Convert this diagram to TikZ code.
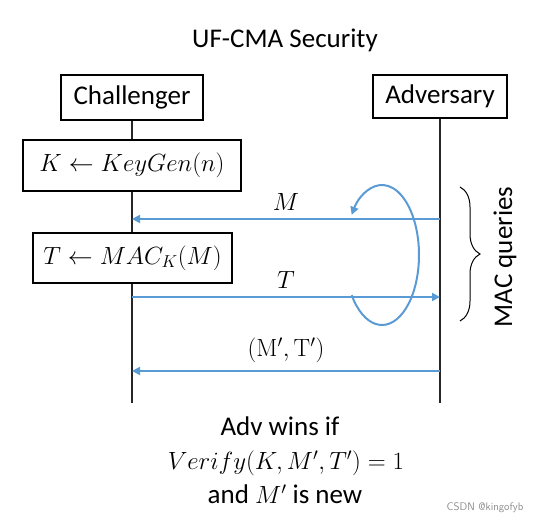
\documentclass[tikz,border=0pt]{standalone}
\usepackage[no-math]{fontspec}
\setmainfont{Carlito}
\usetikzlibrary{arrows.meta,decorations.pathreplacing}
\definecolor{msgblue}{RGB}{91,155,213}

\begin{document}
\begin{tikzpicture}[x=1pt, y=-1pt,
  party/.style={draw, line width=1.3pt, fill=white, inner sep=0pt, font=\fontsize{27}{30}\selectfont},
  step box/.style={draw, line width=1.3pt, fill=white, inner sep=0pt, font=\fontsize{24}{30}\selectfont},
  lifeline/.style={line width=1.2pt, black!85},
  msg/.style={-{Triangle[length=8pt, width=8pt]}, line width=2.4pt, msgblue},
  msglabel/.style={font=\fontsize{25}{30}\selectfont, text=black, inner sep=0pt},
  txt/.style={font=\fontsize{27}{30}\selectfont, inner sep=0pt},
]
\useasboundingbox (0,0) rectangle (544,526);

% === TITLE AND PARTIES ===
\node[txt] (title) at (285,40) {UF-CMA Security};
\node[party, minimum width=142pt, minimum height=45pt] (chal) at (132,97.5) {Challenger};
\node[party, minimum width=134pt, minimum height=43pt] (adv) at (440,96.5) {Adversary};

% === LIFELINES ===
\coordinate (chalEnd) at (132,403);
\coordinate (advEnd) at (440,403);
\draw[lifeline] (chal.south) -- (chalEnd);
\draw[lifeline] (adv.south) -- (advEnd);

% === CHALLENGER STEPS ===
\node[step box, minimum width=218pt, minimum height=51pt] (keygen) at (132,165.5) {$K \leftarrow KeyGen(n)$};
\node[step box, minimum width=199pt, minimum height=50pt] (mac) at (132.5,258) {$T \leftarrow MAC_K(M)$};

% === MESSAGES ===
\coordinate (advM) at (440,219);
\coordinate (chalM) at (132,219);
\coordinate (chalT) at (132,297);
\coordinate (advT) at (440,297);
\coordinate (advF) at (440,371);
\coordinate (chalF) at (132,371);
\draw[msg] (advM) -- (chalM) node[msglabel, pos=0.5, above=7pt] {$M$};
\draw[msg] (chalT) -- (advT) node[msglabel, pos=0.5, above=7pt] {$T$};
\draw[msg] (advF) -- (chalF) node[msglabel, pos=0.5, above=7pt] {$(\mathrm{M}',\mathrm{T}')$};

% loop over the queries
\coordinate (loopC) at (382,255);
\draw[msg, line width=2pt] ([shift={(215:37pt and 70pt)}]loopC) arc[start angle=215, end angle=505, x radius=37pt, y radius=70pt];

% === MAC QUERIES BRACE ===
\coordinate (braceTop) at (460,187);
\coordinate (braceBot) at (460,321);
\draw[line width=1pt, decorate, decoration={brace, amplitude=20pt}] (braceTop) -- (braceBot);
\node[txt, rotate=90] (queries) at (505,257) {MAC queries};

% === WINNING CONDITION ===
\node[txt] (wins) at (280,426) {Adv wins if};
\node[msglabel, font=\fontsize{26}{30}\selectfont] (verify) at (286,463) {$Verify(K,M',T') = 1$};
\node[txt] (isnew) at (285,494) {and $M'$ is new};

\node[font=\fontsize{11}{13}\selectfont\sffamily, text=black!45] (mark) at (485,508) {CSDN @kingofyb};
\end{tikzpicture}
\end{document}
